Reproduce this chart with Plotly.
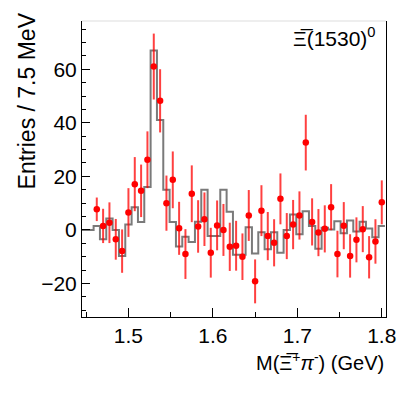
import plotly.graph_objects as go

# bin layout (GeV), 7.5 MeV bins
bin_width = 0.0075
first_center = 1.4625

# data points (background-subtracted entries) and errors
data_y = [7.7, 1.5, 2.7, -3.5, -7.9, 6.5, 17.1, 14.6, 26.2, 61.0,
          48.2, 10.0, 18.7, 0.6, -9.0, 13.5, 1.3, 4.0, -8.5, 1.7,
          0.0, -6.3, -5.9, -10.0, 5.4, -19.2, 7.2, -2.3, -4.8, 11.6,
          -2.3, 2.0, 5.4, 32.6, 3.0, -1.0, 0.4, 8.5, -9.0, 1.6,
          -9.7, -3.7, 0.3, -10.2, -4.3, 10.3]
data_err = [4.4, 6.4, 7.6, 7.6, 8.1, 9.1, 10.1, 9.8, 10.6, 12.3,
            11.8, 10.3, 10.6, 9.9, 9.3, 10.6, 9.8, 10.0, 9.3, 9.3,
            9.7, 9.0, 9.3, 8.7, 9.5, 8.2, 9.5, 9.0, 8.8, 9.5,
            8.6, 9.2, 9.0, 10.4, 8.8, 8.8, 8.8, 8.6, 8.7, 8.8,
            8.1, 8.4, 8.6, 7.9, 8.3, 8.2]

# MC / fit histogram contents (two empty bins before the first data bin)
hist_y = [0.0, 0.0,
          1.5, -3.5, 4.3, 0.0, -9.7, 2.0, 8.5, 3.0, 16.0, 67.0,
          41.0, 15.0, 3.0, -6.2, -2.5, -4.5, 3.1, 15.0, -2.3, -2.3,
          15.0, 6.8, -9.3, -9.3, 1.0, -8.8, -0.9, -7.2, -0.9, -8.5,
          0.0, 5.8, -1.6, 7.0, 1.5, -7.0, 0.8, 0.2, 3.2, -1.2,
          3.5, -0.6, 3.1, 0.5, -2.7, 1.5]

data_x = [first_center + i * bin_width for i in range(len(data_y))]
hist_start = first_center - 2.5 * bin_width
hist_edges = [hist_start + i * bin_width for i in range(len(hist_y) + 1)]

fig = go.Figure()
fig.add_trace(go.Scatter(
    x=hist_edges,
    y=hist_y + [hist_y[-1]],
    mode="lines",
    line=dict(color="#7a7a7a", width=2, shape="hv"),
    hoverinfo="skip",
))
fig.add_trace(go.Scatter(
    x=data_x,
    y=data_y,
    mode="markers",
    marker=dict(color="#ff0000", size=6.5),
    error_y=dict(type="data", array=data_err, color="rgba(255,0,0,0.75)",
                 thickness=2, width=0),
))

# page body has an 8px margin, so the figure is drawn 8px smaller
font = "Liberation Sans, Arial, sans-serif"
fig.update_layout(
    width=391,
    height=380,
    margin=dict(l=74, r=13, t=13, b=71),
    paper_bgcolor="white",
    plot_bgcolor="white",
    showlegend=False,
    font=dict(family=font, size=21, color="black"),
    xaxis=dict(
        range=[1.445, 1.805],
        tick0=1.5, dtick=0.1,
        ticks="inside", ticklen=9, tickcolor="black",
        minor=dict(dtick=0.05, tick0=1.45, ticks="inside", ticklen=5, tickcolor="black"),
        showgrid=False, zeroline=False, automargin=False,
        showline=True, linecolor="black", linewidth=1,
        tickfont=dict(size=21),
    ),
    yaxis=dict(
        range=[-32.5, 78],
        tick0=0, dtick=20,
        ticks="inside", ticklen=8, tickcolor="black",
        minor=dict(dtick=5, ticks="inside", ticklen=4, tickcolor="black"),
        showgrid=False, zeroline=False, automargin=False,
        showline=True, linecolor="black", linewidth=1, mirror=True,
        tickfont=dict(size=21),
    ),
    shapes=[
        # faint top edge of the frame
        dict(type="line", xref="paper", yref="paper", x0=0, x1=1, y0=1, y1=1,
             line=dict(color="#dddddd", width=1)),
    ],
    annotations=[
        dict(text="Entries / 7.5 MeV", textangle=-90, showarrow=False,
             xref="paper", yref="paper", x=-0.18, y=1.035,
             xanchor="center", yanchor="top", font=dict(size=23)),
        dict(text="M(Ξ\u0305<sup>+</sup><i>π</i><sup>-</sup>) (GeV)", showarrow=False,
             xref="paper", yref="paper", x=1.0, y=-0.1,
             xanchor="right", yanchor="top", font=dict(size=20)),
        dict(text="Ξ\u0305(1530)<sup>0</sup>", showarrow=False,
             xref="paper", yref="paper", x=0.975, y=0.995,
             xanchor="right", yanchor="top", font=dict(size=21)),
    ],
)

fig.write_html("out.html")
